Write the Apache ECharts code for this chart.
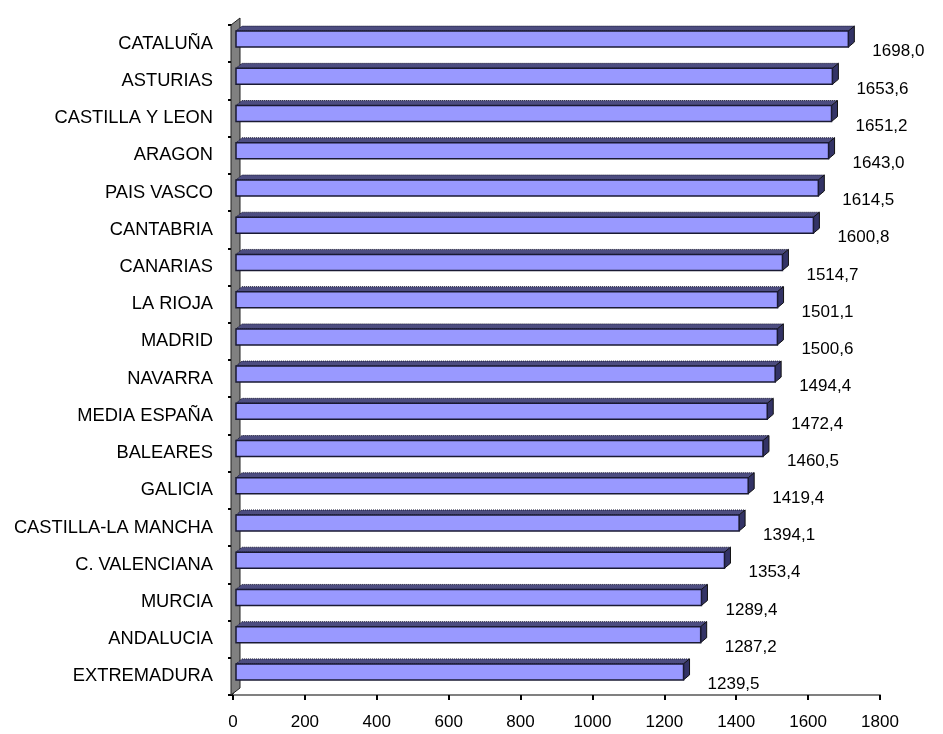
<!DOCTYPE html>
<html>
<head>
<meta charset="utf-8">
<script src="https://cdn.jsdelivr.net/npm/echarts@6/dist/echarts.min.js"></script>
<style>html,body{margin:0;padding:0;background:#fff;}#c{width:943px;height:734px;}</style>
</head>
<body>
<div id="c"></div>
<script>
const categories = ['CATALUÑA','ASTURIAS','CASTILLA Y LEON','ARAGON','PAIS VASCO','CANTABRIA','CANARIAS','LA RIOJA','MADRID','NAVARRA','MEDIA ESPAÑA','BALEARES','GALICIA','CASTILLA-LA MANCHA','C. VALENCIANA','MURCIA','ANDALUCIA','EXTREMADURA'];
const values = [1698.0,1653.6,1651.2,1643.0,1614.5,1600.8,1514.7,1501.1,1500.6,1494.4,1472.4,1460.5,1419.4,1394.1,1353.4,1289.4,1287.2,1239.5];
const xTicks = [0,200,400,600,800,1000,1200,1400,1600,1800];

const FONT = 'Liberation Sans, Arial, sans-serif';
const DX = 6, DY = -5;
const chart = echarts.init(document.getElementById('c'));

function fmt(v){ return v.toFixed(1).replace('.', ','); }

chart.setOption({
  animation: false,
  backgroundColor: '#fff',
  grid: { left: 233, right: 63, top: 25, bottom: 39, containLabel: false },
  xAxis: {
    type: 'value', min: xTicks[0], max: xTicks[xTicks.length-1], interval: 200,
    axisLine: { show: true, lineStyle: { color: '#808080', width: 2 } },
    axisTick: { show: true, length: 5, lineStyle: { color: '#000', width: 2 } },
    splitLine: { show: false },
    axisLabel: { color: '#000', fontSize: 17, fontFamily: FONT, margin: 19, formatter: v => String(v) }
  },
  yAxis: {
    type: 'category', data: categories, inverse: true,
    axisLine: { show: true, lineStyle: { color: '#000', width: 1.5 } },
    axisTick: { show: true, length: 5, lineStyle: { color: '#000', width: 2 } },
    axisLabel: { color: '#000', fontSize: 18.3, fontFamily: FONT, margin: 20 }
  },
  series: [{
    type: 'custom',
    data: values.map((v, i) => [v, i]),
    encode: { x: 0, y: 1 },
    clip: false,
    renderItem: function (params, api) {
      const v = api.value(0), idx = api.value(1);
      const p0 = api.coord([0, idx]);
      const p1 = api.coord([v, idx]);
      const band = api.size([0, 1])[1];
      const h = band * 0.43;
      const cy = p0[1] - 4.5;
      const top = cy - h / 2, bot = cy + h / 2;
      const x0 = p0[0] + 3, x1 = p1[0] + 5;
      const children = [];
      if (params.dataIndex === 0) {
        const cs = params.coordSys;
        const wx = cs.x - 2, wt = cs.y, wb = cs.y + cs.height;
        children.push({
          type: 'polygon', z2: 0,
          shape: { points: [[wx, wb], [wx, wt], [wx + 9, wt - 7], [wx + 9, wb - 7]] },
          style: { fill: '#808080', stroke: '#222', lineWidth: 1 }
        });
      }
      children.push({
        type: 'polygon', z2: 2,
        shape: { points: [[x0, top], [x1, top], [x1 + DX, top + DY], [x0 + DX, top + DY]] },
        style: { fill: '#4d4d80', stroke: '#1a1a33', lineWidth: 1, lineDash: [1, 1] }
      });
      children.push({
        type: 'polygon', z2: 2,
        shape: { points: [[x1, top], [x1 + DX, top + DY], [x1 + DX, bot + DY], [x1, bot]] },
        style: { fill: '#333366', stroke: '#111', lineWidth: 1 }
      });
      children.push({
        type: 'rect', z2: 3,
        shape: { x: x0, y: top, width: x1 - x0, height: h },
        style: { fill: '#9999ff', stroke: '#1a1a33', lineWidth: 1.5 }
      });
      children.push({
        type: 'text', z2: 4,
        style: { text: fmt(v), x: x1 + DX + 18, y: p0[1] + 8, fill: '#000', fontSize: 17, fontFamily: FONT, textAlign: 'left', textVerticalAlign: 'middle' }
      });
      return { type: 'group', children: children };
    }
  }]
});
</script>
</body>
</html>
